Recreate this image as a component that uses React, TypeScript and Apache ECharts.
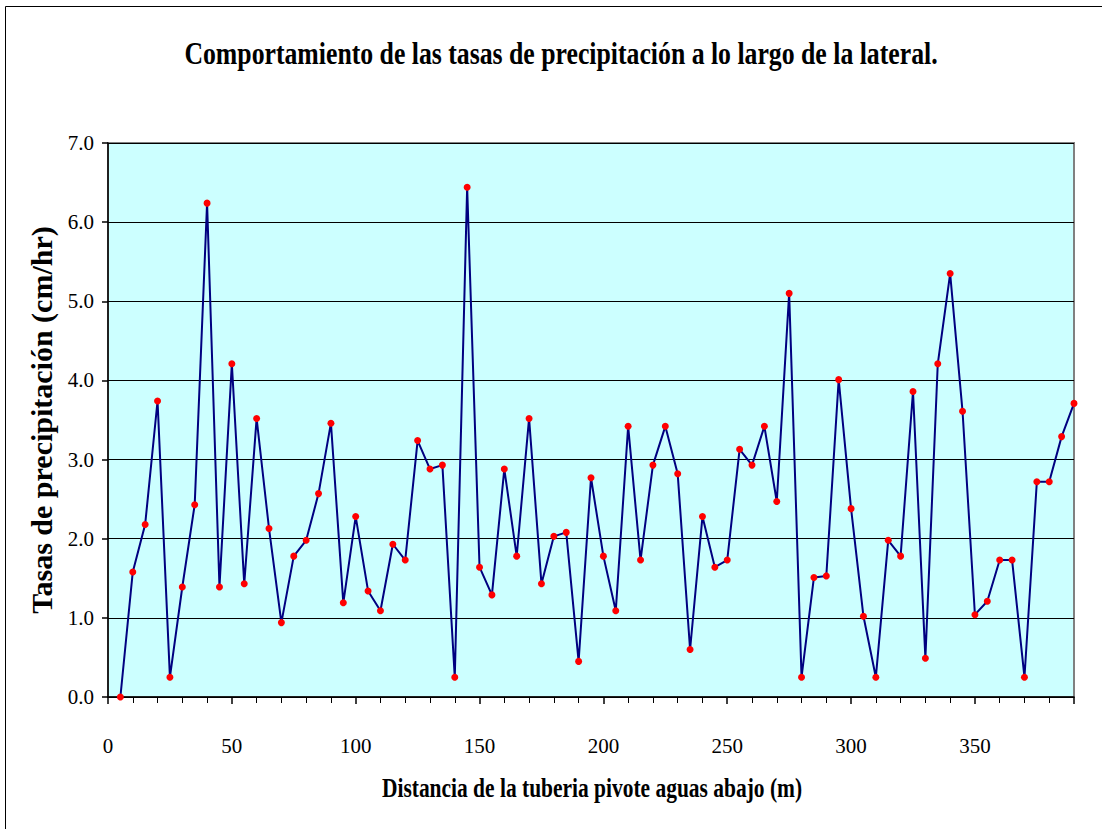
import React, { useEffect, useRef } from "react";
import * as echarts from "echarts";

const TITLE = "Comportamiento de las tasas de precipitación a lo largo de la lateral.";
const X_NAME = "Distancia de la tuberia pivote aguas abajo (m)";
const Y_NAME = "Tasas de precipitación (cm/hr)";

const distances = [
  5, 10, 15, 20, 25, 30, 35, 40, 45, 50, 55, 60, 65, 70, 75, 80, 85, 90, 95, 100,
  105, 110, 115, 120, 125, 130, 135, 140, 145, 150, 155, 160, 165, 170, 175, 180, 185, 190, 195, 200,
  205, 210, 215, 220, 225, 230, 235, 240, 245, 250, 255, 260, 265, 270, 275, 280, 285, 290, 295, 300,
  305, 310, 315, 320, 325, 330, 335, 340, 345, 350, 355, 360, 365, 370, 375, 380, 385, 390,
];

const rates = [
  0.0, 1.58, 2.18, 3.74, 0.25, 1.39, 2.43, 6.24, 1.39, 4.21, 1.43, 3.52, 2.13, 0.94, 1.78, 1.98, 2.57, 3.46, 1.19, 2.28,
  1.34, 1.09, 1.93, 1.73, 3.24, 2.88, 2.93, 0.25, 6.44, 1.64, 1.29, 2.88, 1.78, 3.52, 1.43, 2.03, 2.08, 0.45, 2.77, 1.78,
  1.09, 3.42, 1.73, 2.93, 3.42, 2.82, 0.6, 2.28, 1.64, 1.73, 3.13, 2.93, 3.42, 2.47, 5.1, 0.25, 1.51, 1.53, 4.01, 2.38,
  1.02, 0.25, 1.98, 1.78, 3.86, 0.49, 4.21, 5.35, 3.61, 1.04, 1.21, 1.73, 1.73, 0.25, 2.72, 2.72, 3.29, 3.71,
];

const X_MIN = 0;
const X_MAX = 390;
const X_STEP = 50;
const Y_MIN = 0;
const Y_MAX = 7;
const Y_STEP = 1;

const SERIF = "'Liberation Serif', 'Times New Roman', serif";

export default function App() {
  const ref = useRef<HTMLDivElement>(null);

  useEffect(() => {
    if (!ref.current) return;
    const chart = echarts.init(ref.current, undefined, { renderer: "svg" });
    const points = distances.map((d, i) => [d, rates[i]]);
    chart.setOption({
      animation: false,
      backgroundColor: "#ffffff",
      graphic: [
        {
          type: "rect",
          z: -10,
          shape: { x: 5.5, y: 6.5, width: 1120, height: 850 },
          style: { fill: "#ffffff", stroke: "#000000", lineWidth: 1 },
        },
        {
          type: "text",
          x: 561,
          y: 53,
          scaleX: 0.805,
          style: {
            text: TITLE,
            fill: "#000000",
            font: `bold 32px ${SERIF}`,
            textAlign: "center",
            textVerticalAlign: "middle",
            align: "center",
            verticalAlign: "middle",
          },
        },
        {
          type: "text",
          x: 592,
          y: 788,
          scaleX: 0.795,
          style: {
            text: X_NAME,
            fill: "#000000",
            font: `bold 27px ${SERIF}`,
            textAlign: "center",
            textVerticalAlign: "middle",
            align: "center",
            verticalAlign: "middle",
          },
        },
      ],
      grid: {
        left: 108,
        top: 143,
        width: 966,
        height: 554,
        show: true,
        backgroundColor: "#CCFFFF",
        borderColor: "#808080",
        borderWidth: 2,
      },
      xAxis: {
        type: "value",
        min: X_MIN,
        max: X_MAX,
        interval: X_STEP,
        axisLine: { show: true, onZero: false, lineStyle: { color: "#000000", width: 1.5 } },
        axisTick: { show: true, inside: false, length: 7, lineStyle: { color: "#000000", width: 1.5 } },
        minorTick: { show: true, splitNumber: 5, length: 6, lineStyle: { color: "#000000", width: 1 } },
        splitLine: { show: false },
        axisLabel: {
          show: true,
          margin: 38,
          color: "#000000",
          fontFamily: SERIF,
          fontSize: 21,
          showMaxLabel: false,
        },
      },
      yAxis: {
        type: "value",
        min: Y_MIN,
        max: Y_MAX,
        interval: Y_STEP,
        name: Y_NAME,
        nameLocation: "middle",
        nameRotate: 90,
        nameGap: 46,
        nameTextStyle: { color: "#000000", fontFamily: SERIF, fontSize: 30, fontWeight: "bold" },
        axisLine: { show: true, lineStyle: { color: "#000000", width: 1.5 } },
        axisTick: { show: true, inside: false, length: 6, lineStyle: { color: "#000000", width: 1.5 } },
        splitLine: { show: true, lineStyle: { color: "#000000", width: 1 } },
        axisLabel: {
          margin: 14,
          color: "#000000",
          fontFamily: SERIF,
          fontSize: 21,
          formatter: (v: number) => v.toFixed(1),
        },
      },
      series: [
        {
          type: "line",
          data: points,
          clip: false,
          symbol: "circle",
          symbolSize: 7,
          itemStyle: { color: "#FF0000", borderWidth: 0 },
          lineStyle: { color: "#000080", width: 2 },
          z: 5,
        },
      ],
    });
    return () => chart.dispose();
  }, []);

  return (
    <div
      ref={ref}
      style={{ position: "absolute", left: 0, top: 0, width: 1102, height: 829 }}
    />
  );
}
